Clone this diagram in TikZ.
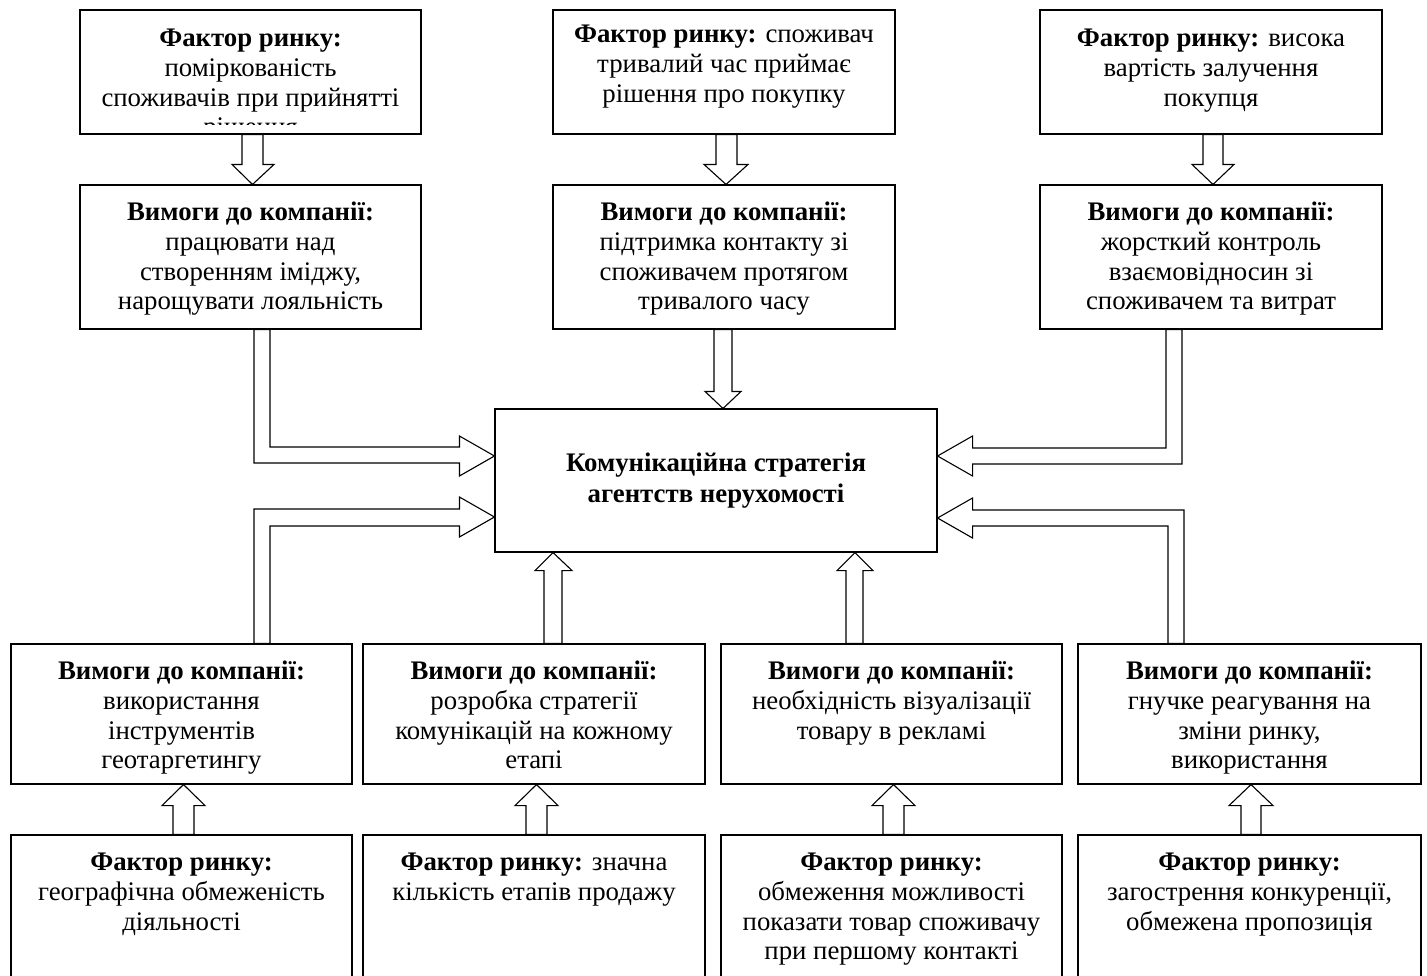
\documentclass[tikz,border=0pt]{standalone}
\usepackage{fontspec}
\setmainfont{Liberation Serif}
\usetikzlibrary{calc}

\tikzset{
  box/.style={draw, line width=1.1pt, fill=white, rectangle, inner sep=0pt},
  txt/.style={anchor=north, align=center, inner sep=0pt,
              font=\fontsize{26.8}{29.7}\selectfont},
  ctxt/.style={align=center, inner sep=0pt,
               font=\fontsize{26.8}{31}\selectfont\bfseries},
  blk/.style={draw, line width=1.1pt, fill=white, line join=miter},
}

% strut that fixes the first baseline of a text block
\newcommand\fs{\rule{0pt}{20pt}}
% rectangle node from its corners: name, x1, y1, x2, y2
\newcommand\panel[5]{%
  \node[box, minimum width={(#4)-(#2)}, minimum height={(#5)-(#3)}]
    (#1) at ({((#2)+(#4))/2},{((#3)+(#5))/2}) {};}
% vertical block arrow: from, to, shaft left, shaft right,
% head left, head right, tip x, head offset
\newcommand\blkv[8]{%
  \draw[blk] (#3,0 |- #1) -- ($(#3,0 |- #2)+(0,#8)$)
    -- ($(#5,0 |- #2)+(0,#8)$) -- (#7,0 |- #2)
    -- ($(#6,0 |- #2)+(0,#8)$) -- ($(#4,0 |- #2)+(0,#8)$)
    -- (#4,0 |- #1) -- cycle;}
\newcommand\hdr{\textbf{Фактор ринку:}}
\newcommand\req{\textbf{Вимоги до компанії:}}

\begin{document}
\begin{tikzpicture}[x=1pt,y=-1pt]
\useasboundingbox (0,0) rectangle (1427,975);
\clip (0,0) rectangle (1427,975);

% upper row of factors and requirements
\panel{f1}{80}{10}{421}{134}
\panel{f2}{553}{10}{895}{134}
\panel{f3}{1040}{10}{1382}{134}
\panel{r1}{80}{185}{421}{329}
\panel{r2}{553}{185}{895}{329}
\panel{r3}{1040}{185}{1382}{329}

% central block
\panel{c}{495}{409}{937}{552}

% lower row of requirements and factors
\panel{b1}{11}{644}{352}{784}
\panel{b2}{363}{644}{705}{784}
\panel{b3}{721}{644}{1062}{784}
\panel{b4}{1078}{644}{1421}{784}
\panel{g1}{11}{835}{352}{1000}
\panel{g2}{363}{835}{705}{1000}
\panel{g3}{721}{835}{1062}{1000}
\panel{g4}{1078}{835}{1421}{1000}

% texts
\begin{scope}
  \clip (80,10) rectangle (421,124);
  \node[txt] (f1t) at ($(f1.north)+(0,17)$)
    {\fs\hdr\\поміркованість\\споживачів при прийнятті\\рішення};
\end{scope}
\node[txt] (f2t) at ($(f2.north)+(0,13)$)
  {\fs\hdr{} споживач\\тривалий час приймає\\рішення про покупку};
\node[txt] (f3t) at ($(f3.north)+(0,17)$)
  {\fs\hdr{} висока\\вартість залучення\\покупця};
\node[txt] (r1t) at ($(r1.north)+(0,16)$)
  {\fs\req\\працювати над\\створенням іміджу,\\нарощувати лояльність};
\node[txt] (r2t) at ($(r2.north)+(0,16)$)
  {\fs\req\\підтримка контакту зі\\споживачем протягом\\тривалого часу};
\node[txt] (r3t) at ($(r3.north)+(0,16)$)
  {\fs\req\\жорсткий контроль\\взаємовідносин зі\\споживачем та витрат};
\node[ctxt] (ct) at (c.center) {Комунікаційна стратегія\\агентств нерухомості};
\node[txt] (b1t) at ($(b1.north)+(0,16)$)
  {\fs\req\\використання\\інструментів\\геотаргетингу};
\node[txt] (b2t) at ($(b2.north)+(0,16)$)
  {\fs\req\\розробка стратегії\\комунікацій на кожному\\етапі};
\node[txt] (b3t) at ($(b3.north)+(0,16)$)
  {\fs\req\\необхідність візуалізації\\товару в рекламі};
\node[txt] (b4t) at ($(b4.north)+(0,16)$)
  {\fs\req\\гнучке реагування на\\зміни ринку,\\використання};
\node[txt] (g1t) at ($(g1.north)+(0,16)$)
  {\fs\hdr\\географічна обмеженість\\діяльності};
\node[txt] (g2t) at ($(g2.north)+(0,16)$)
  {\fs\hdr{} значна\\кількість етапів продажу};
\node[txt] (g3t) at ($(g3.north)+(0,16)$)
  {\fs\hdr\\обмеження можливості\\показати товар споживачу\\при першому контакті};
\node[txt] (g4t) at ($(g4.north)+(0,16)$)
  {\fs\hdr\\загострення конкуренції,\\обмежена пропозиція};

% block arrows: factor -> requirement (upper row)
\blkv{f1.south}{r1.north}{242}{263}{232}{274}{252.5}{-20}
\blkv{f2.south}{r2.north}{716}{737}{704}{748}{726}{-20}
\blkv{f3.south}{r3.north}{1203}{1223}{1192}{1234}{1213}{-20}

% block arrows: factor -> requirement (lower row)
\blkv{g1.north}{b1.south}{173}{194}{162}{205}{183.5}{21}
\blkv{g2.north}{b2.south}{526}{547}{515}{558}{536.5}{21}
\blkv{g3.north}{b3.south}{883}{904}{872}{915}{893.5}{21}
\blkv{g4.north}{b4.south}{1241}{1261}{1229}{1273}{1251}{21}

% straight block arrows into the central block
\blkv{r2.south}{c.north}{714}{732}{705}{741}{723}{-17}
\blkv{b2.north}{c.south}{544}{562}{535}{572}{553}{18}
\blkv{b3.north}{c.south}{846}{863}{837}{873}{855}{18}

% elbow block arrows into the central block
\draw[blk] (254,0 |- r1.south) -- (254,463)
  -- ($(c.west |- 0,463)+(-35,0)$) -- ($(c.west |- 0,476)+(-35,0)$)
  -- (c.west |- 0,456)
  -- ($(c.west |- 0,436)+(-35,0)$) -- ($(c.west |- 0,447)+(-35,0)$)
  -- (270,447) -- (270,0 |- r1.south) -- cycle;
\draw[blk] (254,0 |- b1.north) -- (254,509)
  -- ($(c.west |- 0,509)+(-35,0)$) -- ($(c.west |- 0,497)+(-35,0)$)
  -- (c.west |- 0,517)
  -- ($(c.west |- 0,537)+(-35,0)$) -- ($(c.west |- 0,526)+(-35,0)$)
  -- (270,526) -- (270,0 |- b1.north) -- cycle;
\draw[blk] (1182,0 |- r3.south) -- (1182,464)
  -- ($(c.east |- 0,464)+(35,0)$) -- ($(c.east |- 0,476)+(35,0)$)
  -- (c.east |- 0,456)
  -- ($(c.east |- 0,436)+(35,0)$) -- ($(c.east |- 0,448)+(35,0)$)
  -- (1166,448) -- (1166,0 |- r3.south) -- cycle;
\draw[blk] (1184,0 |- b4.north) -- (1184,510)
  -- ($(c.east |- 0,510)+(35,0)$) -- ($(c.east |- 0,498)+(35,0)$)
  -- (c.east |- 0,518)
  -- ($(c.east |- 0,538)+(35,0)$) -- ($(c.east |- 0,526)+(35,0)$)
  -- (1168,526) -- (1168,0 |- b4.north) -- cycle;
\end{tikzpicture}
\end{document}
